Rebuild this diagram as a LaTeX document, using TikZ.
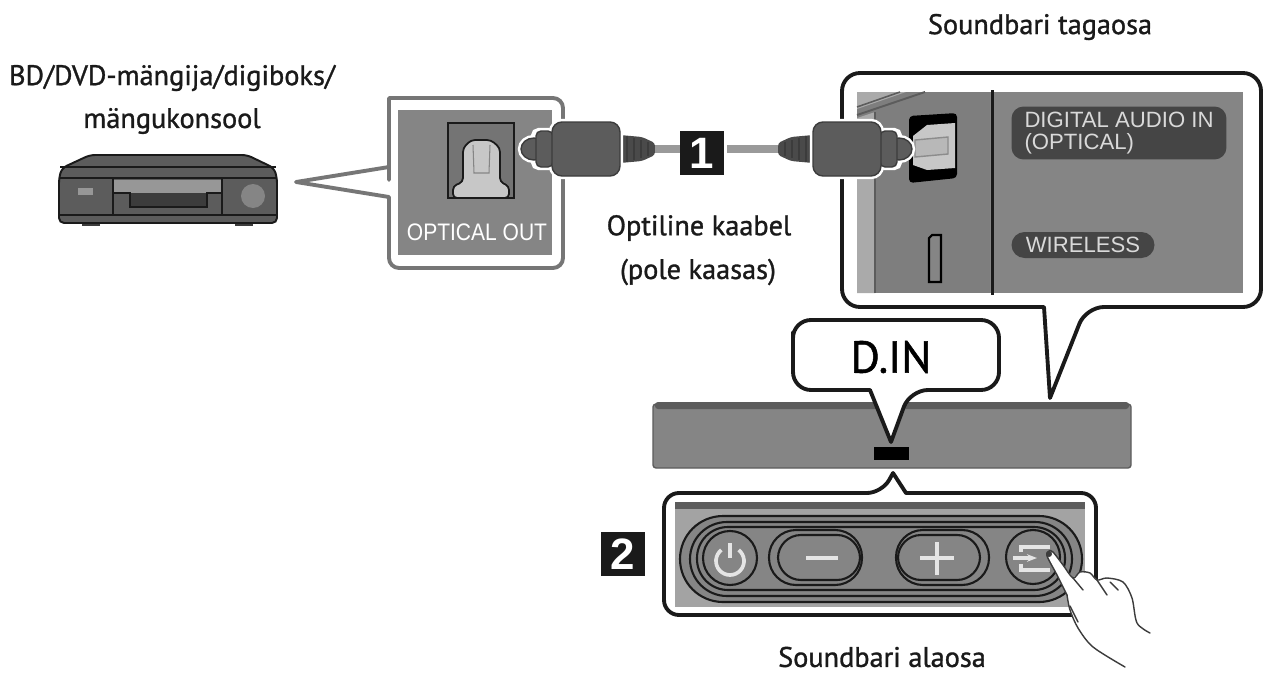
\documentclass[tikz,border=0pt]{standalone}
\usepackage{fontspec}
\setmainfont[RawFeature={embolden=1.1}]{PT Sans}
\newfontfamily\labelfont{Liberation Sans}
\usetikzlibrary{positioning, arrows.meta}

\definecolor{panelgray}{HTML}{858585}
\definecolor{plugdark}{HTML}{5c5c5c}
\definecolor{ridgedark}{HTML}{3c3c3c}
\definecolor{cablegray}{HTML}{9a9a9a}
\definecolor{pilldark}{HTML}{454545}
\definecolor{leftedge}{HTML}{767676}
\definecolor{inkblack}{HTML}{1a1a1a}

\tikzset{
    caption/.style={font=\fontsize{16.1pt}{18pt}\selectfont, text=inkblack, inner sep=0pt},
    callout/.style={draw=inkblack, fill=white, line width=2.2pt, line join=round},
    panel/.style={fill=panelgray, draw=none},
    badge/.style={fill=inkblack, text=white, inner sep=0pt, minimum width=0.88cm, minimum height=0.88cm,
        font=\labelfont\bfseries\fontsize{25pt}{25pt}\selectfont},
    pill/.style={fill=pilldark, text=white!85!black, rounded corners=0.24cm, inner sep=0pt, align=left,
        font=\labelfont\fontsize{12.6pt}{12.8pt}\selectfont},
    btnline/.style={draw=inkblack, line width=1.2pt},
    symbol/.style={draw=white!90!black, line width=2.1pt},
    handline/.style={draw=ridgedark, line width=0.8pt, line cap=round},
    cableline/.style={draw=cablegray, line width=4.4pt},
    plughalo/.style={draw=white, line width=3.6pt},
    plugpart/.style={draw=ridgedark, line width=0.8pt, fill=plugdark},
    plug/.pic={
        % strain relief
        \fill[plugdark!80!black, rounded corners=0.06cm] (34,-14) -- (56,-12) -- (69,-6) -- (69,6) -- (56,12) -- (34,14) -- cycle;
        \foreach \rx in {41,48,55,62}
            \draw[ridgedark, line width=1.1pt] (\rx,{-13+(\rx-41)*0.3}) -- (\rx,{13-(\rx-41)*0.3});
        % white halo below tip, collar and body
        \draw[plughalo] (-52,0) ellipse (13 and 11);
        \draw[plughalo, rounded corners=0.1cm] (-52,-18) rectangle (-33,18);
        \draw[plughalo, rounded corners=0.2cm] (-34,-27) rectangle (34,27);
        \draw[plugpart] (-52,0) ellipse (13 and 11);
        \draw[plugpart, rounded corners=0.1cm] (-50,-18) rectangle (-33,18);
        \draw[plugpart, rounded corners=0.2cm] (-34,-27) rectangle (34,27);
        \coordinate (-end) at (69,0);
    },
}

\begin{document}
\begin{tikzpicture}[x=0.02cm, y=-0.02cm]

    \useasboundingbox (0,0) rectangle (1271,676);
    \fill[white] (0,0) rectangle (1271,676);

    % Captions
    \node[caption] (backcap) at (1040,27) {Soundbari tagaosa};
    \node[caption] (sourcecap) at (172,78) {BD/DVD-mängija/digiboks/};
    \node[caption] (consolecap) at (172,121) {mängukonsool};
    \node[caption] (cablecap) at (699,228) {Optiline kaabel};
    \node[caption] (supplycap) at (698,272) {(pole kaasas)};
    \node[caption] (bottomcap) at (882,657) {Soundbari alaosa};

    % Player
    \fill[ridgedark] (82,220) rectangle (100,226);
    \fill[ridgedark] (235,220) rectangle (253,226);
    \draw[draw=inkblack, fill=plugdark, line width=1.1pt, rounded corners=0.1cm] (59,178) -- (62,168) -- (90,155)
        -- (247,155) -- (274,168) -- (277,178) -- (277,223) -- (59,223) -- cycle;
    \draw[inkblack, line width=0.9pt] (60,167) -- (276,167);
    \draw[inkblack, line width=1.3pt] (60,178) -- (276,178);
    \draw[inkblack, line width=0.9pt] (60,215) -- (276,215);
    \fill[panelgray!85!white] (113,180) rectangle (222,193);
    \draw[inkblack, line width=0.8pt] (113,178) -- (113,215);
    \draw[inkblack, line width=0.8pt] (222,178) -- (222,215);
    \draw[inkblack, fill=ridgedark, line width=0.8pt] (113,193) -- (130,193) -- (130,207) -- (207,207) -- (207,193) -- (222,193);
    \fill[panelgray!85!white] (78,188) rectangle (93,195);
    \fill[panelgray] (253,196) circle (12);

    % Callout at the player
    \draw[callout, draw=leftedge] (389,180) -- (389,98) [rounded corners=0.2cm] -- (563,98) -- (563,268) -- (389,268)
        [sharp corners] -- (389,197) -- (296,182) -- (389,167) -- cycle;
    \fill[panel] (398,110) rectangle (552,255);
    \draw[inkblack, fill=plugdark!85!white, line width=0.8pt] (448,123) rectangle (514,198);
    \draw[inkblack, fill=white!78!black, line width=1pt, rounded corners=0.08cm]
        (453,198) -- (453,186) -- (463,182) -- (463,148) -- (471,140) -- (491,140) -- (500,148) -- (500,182)
        -- (509,186) -- (509,198) -- cycle;
    \draw[panelgray, line width=0.6pt] (473,145) -- (474,173) -- (489,173) -- (490,145);
    \node[inner sep=0pt, text=white, xscale=0.88, font=\labelfont\fontsize{13.6pt}{14pt}\selectfont] (optout) at (477,232) {OPTICAL OUT};

    % Soundbar
    \draw[draw=plugdark, fill=panelgray, line width=0.8pt, rounded corners=0.06cm] (653,404) rectangle (1131,468);
    \fill[plugdark, rounded corners=0.06cm] (655,402) rectangle (1129,409);
    \fill[black] (874,447) rectangle (909,460);

    % Callout with the back of the soundbar
    \draw[callout] (842,200) [rounded corners=0.36cm] -- (842,73) -- (1261,73) -- (1261,307) -- (1086,307)
        [sharp corners] -- (1050,398) -- (1044,307) [rounded corners=0.36cm] -- (842,307) -- cycle;
    \fill[panel] (857,92) rectangle (1243,293);
    \fill[panelgray!95!black] (857,92) rectangle (990,293);
    \fill[panelgray!70!white] (857,118) -- (875,112) -- (875,293) -- (857,293) -- cycle;
    \fill[panelgray!70!white] (857,92) -- (906,92) -- (857,109) -- cycle;
    \draw[plugdark, line width=1.1pt] (857,115) -- (925,92);
    \draw[plugdark, line width=0.9pt] (857,107) -- (900,92);
    \draw[plugdark, line width=0.7pt] (875,112) -- (875,293);
    \draw[inkblack, line width=1.7pt] (992,90) -- (992,295);
    % Optical port
    \fill[black, rounded corners=0.08cm] (909,116) -- (957,113) -- (957,178) -- (909,183) -- cycle;
    \fill[white!78!black] (913,136) -- (927,125) -- (955,123) -- (955,168) -- (927,170) -- (913,165) -- cycle;
    \draw[white!55!black, fill=white!72!black, line width=0.8pt] (915,140) -- (948,137) -- (948,154) -- (915,157) -- cycle;
    % HDMI port
    \draw[black, fill=panelgray, line width=1.2pt] (932,235) -- (941,235) -- (941,282) -- (929,282) -- (929,238) -- cycle;

    % Port labels
    \node[pill, minimum width=4.3cm, minimum height=1.06cm] (digital) at (1119,133)
        {DIGITAL AUDIO IN\\(OPTICAL)};
    \node[pill, minimum width=2.86cm, minimum height=0.52cm, rounded corners=0.26cm] (wireless) at (1083,245) {WIRELESS};

    % Cable
    \node[badge] (one) at (702,153) {1};
    \pic (plugA) at (586,149) {plug};
    \pic[xscale=-1] (plugB) at (847,149) {plug};
    \draw[cableline] (plugA-end) -- (plugA-end -| one.west);
    \draw[cableline] (plugB-end) -- ([xshift=0.06cm]plugB-end -| one.east);

    % D.IN callout
    \draw[callout] (793,350) [rounded corners=0.36cm] -- (793,320) -- (999,320) -- (999,390) -- (910,390)
        [sharp corners] -- (891,442) -- (870,390) [rounded corners=0.36cm] -- (793,390) -- cycle;
    \node[inner sep=0pt, text=black, font=\fontsize{25.5pt}{26pt}\selectfont] (din) at (891,357) {D.IN};

    % Callout with the buttons
    \draw[callout] (664,550) [rounded corners=0.3cm] -- (664,493) -- (882,493)
        [sharp corners] -- (893,473) -- (906,493) [rounded corners=0.3cm] -- (1096,493) -- (1096,615) -- (664,615) -- cycle;
    \fill[panelgray!75!white] (675,502) rectangle (1085,607);
    \fill[plugdark] (675,502) rectangle (1085,509);
    \draw[btnline, fill=panelgray, rounded corners=0.86cm] (680,516) rectangle (1082,602);
    \draw[btnline, rounded corners=0.74cm] (690,522) rectangle (1072,596);
    \draw[btnline, rounded corners=0.62cm] (697,527) rectangle (1065,590);

    % Buttons
    \draw[btnline, fill=panelgray] (730,558) circle (27);
    \draw[btnline, fill=panelgray, rounded corners=0.54cm] (769,530) rectangle (862,585);
    \draw[btnline, rounded corners=0.46cm] (778,535) rectangle (860,580);
    \draw[btnline, fill=panelgray, rounded corners=0.54cm] (896,530) rectangle (989,585);
    \draw[btnline, rounded corners=0.46cm] (898,535) rectangle (980,580);
    \draw[btnline, fill=panelgray] (1033,557) circle (27);
    % Button symbols
    \draw[symbol] plot[smooth, domain=38:322, samples=25] ({730+14*sin(\x)},{561-14*cos(\x)});
    \draw[symbol] (730,543) -- (730,558);
    \draw[symbol] (806,558) -- (838,558);
    \draw[symbol] (920,558) -- (954,558);
    \draw[symbol] (937,542) -- (937,575);
    \draw[symbol] (1021,552) -- (1021,547) -- (1050,547);
    \draw[symbol] (1021,564) -- (1021,570) -- (1050,570);
    \draw[symbol, -{Stealth[length=0.2cm]}] (1013,558) -- (1037,558);

    % Step 2
    \node[badge] (two) at (623,554) {2};

    % Hand
    \path[fill=white] (1047,555) -- (1053,552) -- (1073,578) -- (1080,572) -- (1090,573) -- (1097,580) -- (1107,578)
        -- (1123,582) -- (1132,598) -- (1137,623) -- (1125,667) -- (1093,647) -- (1078,628) -- (1070,610) -- (1067,595) -- cycle;
    \draw[handline] plot[smooth, tension=0.5] coordinates {(1067,595) (1057,575) (1047,556) (1049,551) (1053,552)
        (1063,565) (1073,578) (1080,572) (1090,573) (1097,580) (1107,578) (1123,582) (1132,598) (1137,623) (1150,633)};
    \draw[handline] plot[smooth, tension=0.5] coordinates {(1067,595) (1070,610) (1078,628) (1093,647) (1125,667)};
    \fill[ridgedark] (1049,554) circle (3);
    \draw[handline] (1073,578) -- (1083,590);
    \draw[handline] (1097,580) -- (1107,595);
    \draw[handline] (1110,582) -- (1118,590);
    \draw[handline] (1070,606) -- (1078,622);

\end{tikzpicture}
\end{document}
